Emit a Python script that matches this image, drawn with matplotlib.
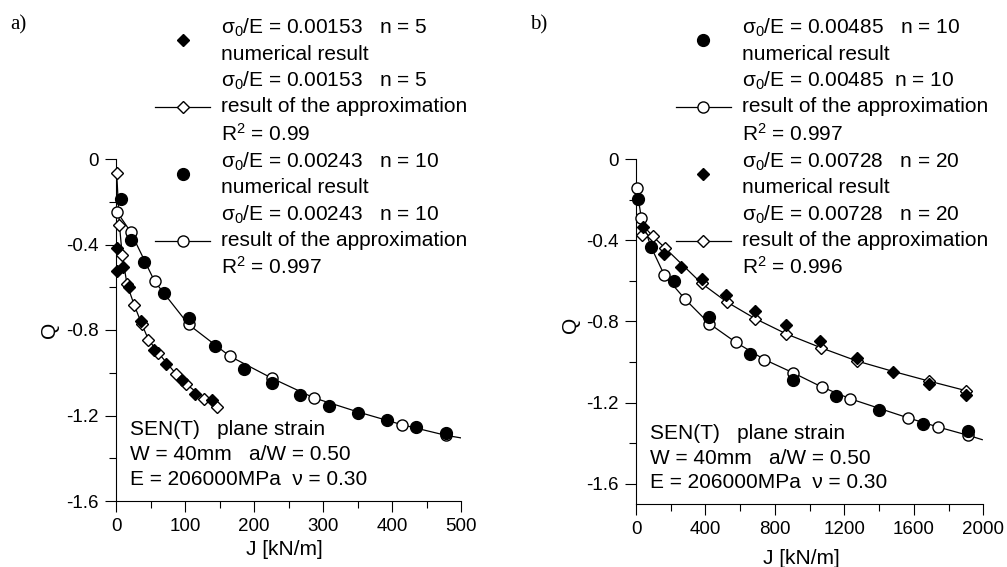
import matplotlib
matplotlib.use("Agg")
import matplotlib.pyplot as plt
from matplotlib.ticker import MultipleLocator

plt.rcParams['font.family'] = ['Liberation Sans', 'DejaVu Sans']
plt.rcParams['mathtext.fontset'] = 'custom'
plt.rcParams['mathtext.rm'] = 'Liberation Sans'
plt.rcParams['mathtext.it'] = 'Liberation Sans:italic'
plt.rcParams['mathtext.default'] = 'regular'

# ---- panel a) ----
a_num5_J = [1, 2, 10, 19, 36, 55, 73, 96, 115, 139]
a_num5_Q = [-0.525, -0.418, -0.504, -0.601, -0.757, -0.895, -0.96, -1.032, -1.098, -1.126]
a_app5_J = [1, 5, 9, 16, 26.5, 37, 47, 61, 86.5, 101, 128, 146]
a_app5_Q = [-0.067, -0.31, -0.45, -0.587, -0.684, -0.77, -0.845, -0.906, -1.004, -1.051, -1.121, -1.16]
a_num10_J = [7, 21, 41, 70, 105, 144, 185, 226, 267, 308, 350, 392, 435, 478]
a_num10_Q = [-0.188, -0.378, -0.484, -0.625, -0.746, -0.874, -0.983, -1.05, -1.102, -1.154,
             -1.188, -1.223, -1.254, -1.28]
a_app10_J = [2, 21, 56, 105, 165, 226, 287, 414, 478]
a_app10_Q = [-0.25, -0.34, -0.573, -0.774, -0.923, -1.026, -1.118, -1.243, -1.293]
# fitted curves
a_fit5_J = a_app5_J
a_fit5_Q = a_app5_Q
a_fit10_J = [2, 21, 56, 105, 165, 226, 287, 350, 414, 478, 500]
a_fit10_Q = [-0.25, -0.34, -0.573, -0.774, -0.923, -1.026, -1.118, -1.183, -1.243, -1.293, -1.305]

# ---- panel b) ----
b_num10_J = [10, 85, 220, 422, 656, 906, 1152, 1399, 1651, 1914]
b_num10_Q = [-0.196, -0.433, -0.601, -0.778, -0.962, -1.087, -1.168, -1.238, -1.304, -1.338]
b_app10_J = [4, 31, 163, 284, 422, 576, 739, 906, 1069, 1232, 1568, 1737, 1914]
b_app10_Q = [-0.143, -0.293, -0.572, -0.692, -0.811, -0.904, -0.988, -1.054, -1.123, -1.181,
             -1.276, -1.320, -1.362]
b_num20_J = [42, 160, 258, 380, 517, 685, 862, 1062, 1271, 1478, 1686, 1898]
b_num20_Q = [-0.337, -0.468, -0.531, -0.592, -0.668, -0.748, -0.819, -0.897, -0.983, -1.048,
             -1.107, -1.164]
b_app20_J = [33, 96, 169, 378, 522, 685, 866, 1065, 1271, 1686, 1898]
b_app20_Q = [-0.375, -0.38, -0.44, -0.613, -0.704, -0.786, -0.862, -0.93, -0.995, -1.094, -1.141]
b_fit10_J = [4, 31, 85, 163, 284, 422, 576, 739, 906, 1069, 1232, 1568, 1737, 1914, 1994]
b_fit10_Q = [-0.143, -0.293, -0.43, -0.572, -0.692, -0.811, -0.904, -0.988, -1.054, -1.123,
             -1.181, -1.276, -1.320, -1.362, -1.383]
b_fit20_J = [23, 96, 169, 378, 522, 685, 866, 1065, 1271, 1478, 1686, 1898]
b_fit20_Q = [-0.31, -0.38, -0.44, -0.613, -0.704, -0.786, -0.862, -0.93, -0.995, -1.046,
             -1.094, -1.141]

a_labels = ["σ$_0$/E = 0.00153   n = 5\nnumerical result",
            "σ$_0$/E = 0.00153   n = 5\nresult of the approximation\nR$^2$ = 0.99",
            "σ$_0$/E = 0.00243   n = 10\nnumerical result",
            "σ$_0$/E = 0.00243   n = 10\nresult of the approximation\nR$^2$ = 0.997"]
b_labels = ["σ$_0$/E = 0.00485   n = 10\nnumerical result",
            "σ$_0$/E = 0.00485  n = 10\nresult of the approximation\nR$^2$ = 0.997",
            "σ$_0$/E = 0.00728   n = 20\nnumerical result",
            "σ$_0$/E = 0.00728   n = 20\nresult of the approximation\nR$^2$ = 0.996"]
info = "SEN(T)   plane strain\nW = 40mm   a/W = 0.50\nE = 206000MPa  ν = 0.30"

W, H = 1007, 567
fig = plt.figure(figsize=(W / 100, H / 100), dpi=100)
ax_a = fig.add_axes([116 / W, 1 - 501 / H, 345.3 / W, 342 / H])
ax_b = fig.add_axes([636 / W, 1 - 504 / H, 347.3 / W, 345 / H])


def style_axes(ax, xmax, xmaj, xmin_, ymin):
    ax.set_xlim(0, xmax)
    ax.set_ylim(ymin, 0)
    ax.spines[['top', 'right']].set_visible(False)
    for s in ('left', 'bottom'):
        ax.spines[s].set_linewidth(0.8)
    ax.xaxis.set_major_locator(MultipleLocator(xmaj))
    ax.xaxis.set_minor_locator(MultipleLocator(xmin_))
    ax.yaxis.set_major_locator(MultipleLocator(0.4))
    ax.yaxis.set_minor_locator(MultipleLocator(0.2))
    ax.tick_params(which='major', length=7.8, width=0.8, labelsize=13.5, pad=4.5)
    ax.tick_params(which='minor', length=4.8, width=0.8)
    ax.yaxis.set_major_formatter(plt.FuncFormatter(lambda v, p: f"{v:g}" if v != 0 else "0"))
    ax.set_xlabel("J [kN/m]", fontsize=15)
    ax.set_ylabel("Q", fontsize=15)


def filled(ax, x, y, m, ms):
    return ax.plot(x, y, ls='none', marker=m, ms=ms, mfc='black', mec='black',
                   clip_on=False, zorder=4)[0]


def hollow(ax, x, y, m, ms):
    return ax.plot(x, y, ls='none', marker=m, ms=ms, mfc='white', mec='black',
                   mew=1.0, clip_on=False, zorder=3)[0]


def curve(ax, x, y):
    return ax.plot(x, y, color='black', lw=0.9, zorder=2)[0]


def add_legend(ax, handles, labels, x_px):
    leg = ax.legend(handles, labels, loc='upper left',
                    bbox_to_anchor=(x_px / W, 1 - 17 / H), bbox_transform=fig.transFigure,
                    frameon=False, fontsize=15, handlelength=2.64, handletextpad=0.53,
                    labelspacing=0.3, borderpad=0, borderaxespad=0)
    for t in leg.get_texts():
        t.set_linespacing(1.35)
    return leg


# panel a
style_axes(ax_a, 500, 100, 50, -1.6)
c5 = curve(ax_a, a_fit5_J, a_fit5_Q)
h5o = hollow(ax_a, a_app5_J, a_app5_Q, 'D', 6.3)
c10 = curve(ax_a, a_fit10_J, a_fit10_Q)
h10o = hollow(ax_a, a_app10_J, a_app10_Q, 'o', 8)
h5 = filled(ax_a, a_num5_J, a_num5_Q, 'D', 6.5)
h10 = filled(ax_a, a_num10_J, a_num10_Q, 'o', 8.5)
add_legend(ax_a, [h5, (c5, h5o), h10, (c10, h10o)], a_labels, 155)
ax_a.text(0.04, 0.136, info, transform=ax_a.transAxes, fontsize=15,
          ha='left', va='center', linespacing=1.37)
ax_a.yaxis.set_label_coords(-0.165, 0.5)
ax_a.xaxis.set_label_coords(0.489, -0.113)

# panel b
style_axes(ax_b, 2000, 400, 200, -1.7)
d10 = curve(ax_b, b_fit10_J, b_fit10_Q)
g10o = hollow(ax_b, b_app10_J, b_app10_Q, 'o', 8)
d20 = curve(ax_b, b_fit20_J, b_fit20_Q)
g20o = hollow(ax_b, b_app20_J, b_app20_Q, 'D', 6.3)
g20 = filled(ax_b, b_num20_J, b_num20_Q, 'D', 6.5)
g10 = filled(ax_b, b_num10_J, b_num10_Q, 'o', 8.5)
add_legend(ax_b, [g10, (d10, g10o), g20, (d20, g20o)], b_labels, 675.7)
ax_b.text(0.04, 0.133, info, transform=ax_b.transAxes, fontsize=15,
          ha='left', va='center', linespacing=1.37)
ax_b.yaxis.set_label_coords(-0.161, 0.52)
ax_b.xaxis.set_label_coords(0.477, -0.13)

fig.text(10 / W, 1 - 25 / H, "a)", fontsize=15, family='Liberation Serif', va='center')
fig.text(530 / W, 1 - 25 / H, "b)", fontsize=15, family='Liberation Serif', va='center')

fig.savefig("out.png", dpi=100)
